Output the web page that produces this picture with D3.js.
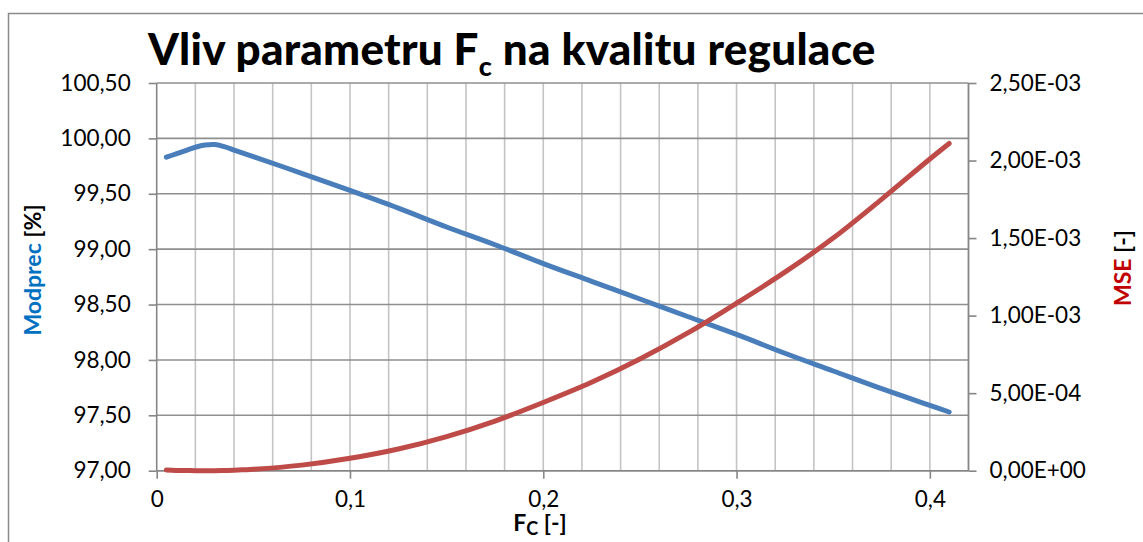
<!DOCTYPE html>
<html><head><meta charset="utf-8">
<script src="https://cdn.jsdelivr.net/npm/d3@7"></script>
<style>body{margin:0;background:#fff}svg{display:block}text{font-family:Lato,"Open Sans",sans-serif}</style>
</head><body>
<svg id="c" width="1143" height="542"></svg>
<script>
const fcValues = [0.005,0.01,0.015,0.02,0.025,0.03,0.035,0.04,0.045,0.05,0.075,0.1,0.125,0.15,0.175,0.2,0.225,0.25,0.275,0.3,0.325,0.35,0.375,0.4,0.41];
const modprec  = [99.83,99.86,99.89,99.92,99.94,99.945,99.925,99.895,99.865,99.835,99.685,99.53,99.37,99.20,99.04,98.87,98.71,98.55,98.39,98.23,98.06,97.90,97.74,97.59,97.53];
const mse      = [0.000005,0.000002,0.000001,0,0,0,0.000001,0.000003,0.000006,0.000009,0.000036,0.00008,0.00014,0.00022,0.00032,0.00044,0.00057,0.00072,0.00089,0.00108,0.00128,0.0015,0.00175,0.00201,0.00211];
const leftTicks  = [97,97.5,98,98.5,99,99.5,100,100.5];
const rightTicks = [0,0.0005,0.001,0.0015,0.002,0.0025];
const xMajorTicks = [0,0.1,0.2,0.3,0.4];
const xMinorTicks = [0.02,0.04,0.06,0.08,0.1,0.12,0.14,0.16,0.18,0.2,0.22,0.24,0.26,0.28,0.3,0.32,0.34,0.36,0.38,0.4,0.42];

const svg = d3.select("#c");
const L=156.7, R=968.5, T=83, B=470.7;
const x = d3.scaleLinear().domain([0,0.42]).range([L,R]);
const yL = d3.scaleLinear().domain([97,100.5]).range([B,T]);
const yR = d3.scaleLinear().domain([0,0.0025]).range([B,T]);

// outer border
svg.append("rect").attr("x",8.5).attr("y",13.5).attr("width",1200).attr("height",600)
  .attr("fill","none").attr("stroke","#8a8a8a").attr("stroke-width",1.5);

// vertical gridlines
svg.append("g").selectAll("line").data(xMinorTicks).join("line")
  .attr("x1",d=>x(d)).attr("x2",d=>x(d)).attr("y1",T).attr("y2",B)
  .attr("stroke","#c4c4c4").attr("stroke-width",1.6);
// horizontal gridlines
svg.append("g").selectAll("line").data(leftTicks).join("line")
  .attr("x1",L).attr("x2",R).attr("y1",d=>yL(d)).attr("y2",d=>yL(d))
  .attr("stroke","#8f8f8f").attr("stroke-width",1.6);

const fmtL = d => d3.format(".2f")(d).replace(".",",");
const fmtR = d => {
  if (d===0) return "0,00E+00";
  const e = Math.floor(Math.log10(d)+1e-9);
  const m = d/Math.pow(10,e);
  return m.toFixed(2).replace(".",",")+"E-"+String(-e).padStart(2,"0");
};

// left axis
const axL = svg.append("g").attr("transform",`translate(${L},0)`)
  .call(d3.axisLeft(yL).tickValues(leftTicks).tickFormat(fmtL).tickSize(8).tickPadding(18));
// right axis
const axR = svg.append("g").attr("transform",`translate(${R},0)`)
  .call(d3.axisRight(yR).tickValues(rightTicks).tickFormat(fmtR).tickSize(8).tickPadding(13));
// bottom axis
const axB = svg.append("g").attr("transform",`translate(0,${B})`)
  .call(d3.axisBottom(x).tickValues(xMajorTicks).tickFormat(d=>d===0?"0":String(d).replace(".",",")).tickSize(8).tickPadding(12));

[axL,axR,axB].forEach(a=>{
  a.select(".domain").attr("stroke","#868686").attr("stroke-width",1.6);
  a.selectAll(".tick line").attr("stroke","#868686").attr("stroke-width",1.6);
  a.selectAll(".tick text").attr("font-size",22.5).attr("fill","#000").style("font-family","Lato,sans-serif");
});
axB.select(".domain").attr("d",`M${L},0H${R}`);
axL.select(".domain").attr("d",`M0,${T}V${B}`);
axR.select(".domain").attr("d",`M0,${T}V${B}`);

// lines
const idx = d3.range(fcValues.length);
const lineL = d3.line().x(i=>x(fcValues[i])).y(i=>yL(modprec[i])).curve(d3.curveCatmullRom.alpha(0.5));
const lineR = d3.line().x(i=>x(fcValues[i])).y(i=>yR(mse[i])).curve(d3.curveCatmullRom.alpha(0.5));
svg.append("path").datum(idx).attr("d",lineL).attr("fill","none").attr("stroke","#4A7EBB")
  .attr("stroke-width",5).attr("stroke-linecap","round").attr("stroke-linejoin","round");
svg.append("path").datum(idx).attr("d",lineR).attr("fill","none").attr("stroke","#BE4B48")
  .attr("stroke-width",5).attr("stroke-linecap","round").attr("stroke-linejoin","round");

// title
const title = svg.append("text").attr("x",148).attr("y",65).attr("font-size",44).attr("font-weight",900).attr("fill","#000")
  .attr("letter-spacing",0.25);
title.append("tspan").text("Vliv parametru F");
title.append("tspan").attr("font-size",27).attr("dy",11).text("c");
title.append("tspan").attr("dy",-11).text(" na kvalitu regulace");

// left y title
const tl = svg.append("text").attr("transform","translate(41,270) rotate(-90)").attr("text-anchor","middle")
  .attr("font-size",23).attr("font-weight",700);
tl.append("tspan").attr("fill","#0070C0").text("Modprec");
tl.append("tspan").attr("fill","#000").text(" [%]");

// right y title
const tr = svg.append("text").attr("transform","translate(1131,268) rotate(-90)").attr("text-anchor","middle")
  .attr("font-size",23).attr("font-weight",700);
tr.append("tspan").attr("fill","#C00000").text("MSE");
tr.append("tspan").attr("fill","#000").text(" [-]");

// x title
const tx = svg.append("text").attr("x",540).attr("y",531).attr("text-anchor","middle").attr("font-size",23).attr("font-weight",700).attr("fill","#000");
tx.append("tspan").text("F");
tx.append("tspan").attr("font-size",18).attr("dy",4).text("C");
tx.append("tspan").attr("dy",-4).text(" [-]");
</script>
</body></html>
